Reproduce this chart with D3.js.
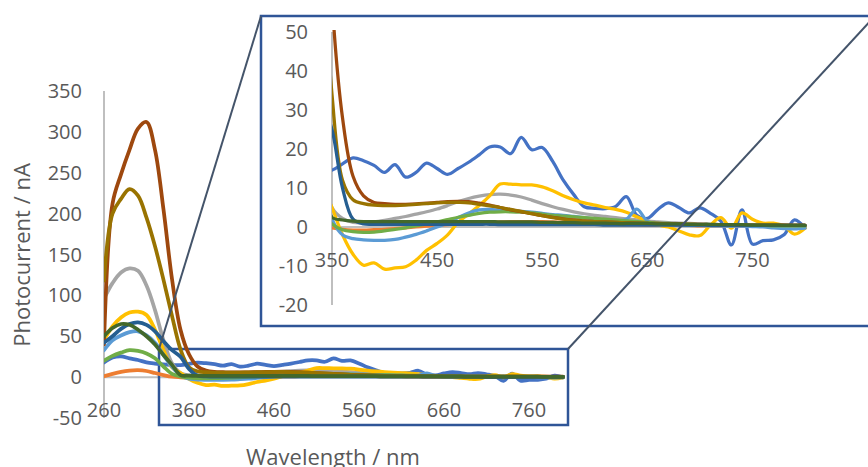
<!DOCTYPE html>
<html>
<head>
<meta charset="utf-8">
<script src="https://cdnjs.cloudflare.com/ajax/libs/d3/7.8.5/d3.min.js"></script>
<style>
  html, body { margin: 0; padding: 0; background: #fff; }
  svg { display: block; }
  text { font-family: "Open Sans", "Noto Sans", sans-serif; fill: #595959; }
</style>
</head>
<body>
<svg id="chart" width="868" height="467"></svg>
<script>
// Wavelength grid (nm)
const wavelengths = [260,270,280,290,300,310,320,330,340,350,360,370,380,390,400,410,420,430,440,450,
  460,470,480,490,500,510,520,530,540,550,560,570,580,590,600,610,620,630,640,650,
  660,670,680,690,700,710,720,730,740,750,760,770,780,790,800];

// Photocurrent (nA) for each sample
const seriesBlue = [18,24,25.5,23,21,18,16.5,15.5,15,14.6,16.2,17.7,17,15.8,14,16,12.8,14,16.4,15,
  13.5,15,16.6,18.5,20.5,20.5,18.8,23,19.8,20.4,16.8,12,8.3,5.2,4.8,4.7,5.3,7.8,3,2.2,
  4.5,6.2,5,3.6,4.9,3.5,1.5,-4.6,4.4,-4.4,-3.5,-3.3,-2,1.8,-0.3];
const seriesOrange = [1,4,6.5,8,8.5,7.5,5,2.5,0.5,-0.2,-0.6,-0.8,-0.8,-0.7,-0.6,-0.4,-0.2,0,0.2,0.4,
  0.6,0.8,1,1.1,1.2,1.3,1.4,1.4,1.4,1.4,1.3,1.2,1.1,1,0.9,0.8,0.7,0.6,0.6,0.5,
  0.5,0.4,0.4,0.4,0.3,0.3,0.3,0.2,0.2,0.3,0.4,0.5,0.5,0.2,0];
const seriesGray = [96,115,128,133,130,112,82,45,17,5,2.2,1.2,1.1,1.3,1.7,2.2,2.7,3.3,3.9,4.6,
  5.5,6.5,7.3,7.9,8.3,8.4,8.2,7.7,6.9,6,5.2,4.5,3.9,3.4,3,2.7,2.4,2.1,1.8,1.5,
  1.3,1.1,1,0.9,0.8,0.7,0.6,0.6,0.5,0.5,0.4,0.4,0.3,0.3,0.3];
const seriesYellow = [45,62,73,79,80,76,58,33,12,5,-2,-7,-9.8,-9.2,-10.8,-10.5,-10.2,-8.5,-6,-4.2,
  -2,1.2,3.3,5.5,8,11,11,10.8,10.8,10.3,9.3,8,7,6.2,5.6,5,4.5,3.8,2.6,1.5,
  0.5,0,-1,-2,-2.2,0.5,2.4,-0.3,3.6,2,1,1,0.3,-1.8,-0.3];
const seriesLightBlue = [33,45,51,55,56,51,42,27,13,2,-2,-3,-3.3,-3.4,-3.4,-3.2,-2.6,-1.9,-1,0,
  1,2.4,3.6,4.4,4.5,4.3,4.2,4,3.8,3.5,3.2,3,2.7,2.4,2.1,1.8,1.6,2,4.6,1.5,
  0.8,0.6,0.5,0.4,0.4,0.3,0.3,0.2,0.2,0.1,0,-0.2,-0.4,-0.5,-0.3];
const seriesGreen = [20,26,30,33,32,29,23,13,4,0.8,-0.7,-1.2,-1.4,-1.3,-1,-0.6,-0.2,0.3,0.8,1.3,
  1.9,2.5,3,3.5,3.8,3.9,3.9,3.8,3.6,3.3,3,2.8,2.6,2.4,2.2,2,1.8,1.6,1.4,1.2,
  1,0.9,0.8,0.7,0.6,0.6,0.5,0.5,0.4,0.4,0.4,0.3,0.3,0.3,0.3];
const seriesBrown = [40,212,248,278,304,312,278,205,120,58,28,13,8,6.3,6,5.8,5.8,5.9,6.1,6.3,
  6.5,6.6,6.5,6.1,5.6,5,4.4,3.9,3.4,2.9,2.5,2.1,1.8,1.6,1.4,1.3,1.2,1.1,1,0.9,
  0.9,0.8,0.8,0.7,0.7,0.6,0.6,0.6,0.5,0.5,0.5,0.5,0.5,0.5,0.5];
const seriesOlive = [118,200,218,230,222,195,160,119,75,34,12,7,6,5.6,5.5,5.5,5.6,5.8,6,6.2,
  6.3,6.3,6.2,5.8,5.4,5,4.5,4,3.4,2.9,2.4,2,1.7,1.5,1.4,1.3,1.2,1.1,1,0.9,
  0.8,0.8,0.7,0.7,0.6,0.6,0.6,0.5,0.5,0.5,0.5,0.5,0.4,0.4,0.4];
const seriesDarkBlue = [42,50,59,65,67,64,56,44,33,25,10,2,0.8,0.7,0.7,0.7,0.7,0.7,0.7,0.7,
  0.7,0.7,0.7,0.7,0.7,0.6,0.6,0.6,0.6,0.6,0.6,0.6,0.6,0.6,0.6,0.5,0.5,0.5,0.5,0.5,
  0.5,0.5,0.5,0.5,0.5,0.4,0.4,0.4,0.4,0.4,0.4,0.4,0.4,0.4,0.4];
const seriesDarkGreen = [50,60,65,64,58,50,40,27,15,2.5,1.8,1.5,1.4,1.4,1.4,1.4,1.4,1.4,1.4,1.4,
  1.4,1.4,1.4,1.4,1.4,1.3,1.3,1.3,1.3,1.2,1.2,1.1,1.1,1,1,1,0.9,0.9,0.9,0.9,
  0.8,0.8,0.8,0.7,0.7,0.7,0.6,0.6,0.6,0.5,0.5,0.5,0.4,0.4,0.4];

const seriesList = [seriesBlue, seriesOrange, seriesGray, seriesYellow, seriesLightBlue,
  seriesGreen, seriesBrown, seriesOlive, seriesDarkBlue, seriesDarkGreen];
const seriesColors = ["#4472C4","#ED7D31","#A5A5A5","#FFC000","#5B9BD5",
  "#70AD47","#9E480E","#997300","#255E91","#43682B"];

// Tick labels
const mainXTicks = [260,360,460,560,660,760];
const mainYTicks = [-50,0,50,100,150,200,250,300,350];
const insetXTicks = [350,450,550,650,750];
const insetYTicks = [-20,-10,0,10,20,30,40,50];

const svg = d3.select("#chart");
const axisGray = "#BFBFBF";
const frameBlue = "#2F5597";
const connectorColor = "#44546A";

// ---------- main chart ----------
const x = d3.scaleLinear().domain([260, 800]).range([104, 563]);
const y = d3.scaleLinear().domain([-50, 350]).range([418, 91]);

const main = svg.append("g");
main.append("line").attr("x1", x(260)).attr("x2", x(260)).attr("y1", y(350)).attr("y2", y(-50))
  .attr("stroke", axisGray).attr("stroke-width", 2);
main.append("line").attr("x1", x(260)).attr("x2", x(800)).attr("y1", y(0)).attr("y2", y(0))
  .attr("stroke", axisGray).attr("stroke-width", 2);

main.selectAll(".ytick").data(mainYTicks).join("text")
  .attr("x", 82).attr("y", d => y(d)).attr("dy", "0.35em")
  .attr("text-anchor", "end").attr("font-size", 20).text(d => d);
main.selectAll(".xtick").data(mainXTicks).join("text")
  .attr("x", d => x(d)).attr("y", y(0) + 33).attr("dy", "0.35em")
  .attr("text-anchor", "middle").attr("font-size", 20).text(d => d);

// zoom window marker
main.append("rect").attr("x", 159).attr("y", 349).attr("width", 409).attr("height", 76)
  .attr("fill", "none").attr("stroke", frameBlue).attr("stroke-width", 2.5);

svg.append("defs").append("clipPath").attr("id", "mainClip").append("rect")
  .attr("x", x(260)).attr("y", y(350) - 4).attr("width", x(800) - x(260) + 4).attr("height", y(-50) - y(350) + 4);

const lineMain = d3.line().x((d, i) => x(wavelengths[i])).y(d => y(d)).curve(d3.curveCatmullRom.alpha(0.5));
main.append("g").attr("clip-path", "url(#mainClip)")
  .selectAll("path").data(seriesList).join("path")
  .attr("d", lineMain).attr("fill", "none")
  .attr("stroke", (d, i) => seriesColors[i]).attr("stroke-width", 3.75)
  .attr("stroke-linejoin", "round").attr("stroke-linecap", "round");

main.append("text").attr("transform", "translate(30,255) rotate(-90)")
  .attr("text-anchor", "middle").attr("font-size", 22).text("Photocurrent / nA");
main.append("text").attr("x", 333).attr("y", 465)
  .attr("text-anchor", "middle").attr("font-size", 22).text("Wavelength / nm");

// ---------- inset ----------
const xi = d3.scaleLinear().domain([350, 800]).range([332, 805]);
const yi = d3.scaleLinear().domain([-20, 50]).range([305, 32]);

const inset = svg.append("g");
inset.append("rect").attr("x", 261).attr("y", 16).attr("width", 640).attr("height", 310)
  .attr("fill", "#fff").attr("stroke", frameBlue).attr("stroke-width", 2.5);

inset.append("line").attr("x1", xi(350)).attr("x2", xi(350)).attr("y1", yi(50)).attr("y2", yi(-20))
  .attr("stroke", axisGray).attr("stroke-width", 2);
inset.append("line").attr("x1", xi(350)).attr("x2", xi(800)).attr("y1", yi(0)).attr("y2", yi(0))
  .attr("stroke", axisGray).attr("stroke-width", 2);

inset.selectAll(".ytick").data(insetYTicks).join("text")
  .attr("x", 308).attr("y", d => yi(d)).attr("dy", "0.35em")
  .attr("text-anchor", "end").attr("font-size", 20).text(d => d);
inset.selectAll(".xtick").data(insetXTicks).join("text")
  .attr("x", d => xi(d)).attr("y", yi(0) + 33).attr("dy", "0.35em")
  .attr("text-anchor", "middle").attr("font-size", 20).text(d => d);

svg.select("defs").append("clipPath").attr("id", "insetClip").append("rect")
  .attr("x", xi(350)).attr("y", yi(50) - 2).attr("width", xi(800) - xi(350) + 4).attr("height", yi(-20) - yi(50) + 2);

const lineInset = d3.line().x((d, i) => xi(wavelengths[i])).y(d => yi(d)).curve(d3.curveCatmullRom.alpha(0.5));
inset.append("g").attr("clip-path", "url(#insetClip)")
  .selectAll("path").data(seriesList).join("path")
  .attr("d", lineInset).attr("fill", "none")
  .attr("stroke", (d, i) => seriesColors[i]).attr("stroke-width", 3.25)
  .attr("stroke-linejoin", "round").attr("stroke-linecap", "round");

// connectors from the zoom window to the inset
svg.append("line").attr("x1", 159).attr("y1", 349).attr("x2", 261).attr("y2", 16)
  .attr("stroke", connectorColor).attr("stroke-width", 2);
svg.append("line").attr("x1", 568).attr("y1", 349).attr("x2", 875).attr("y2", 16)
  .attr("stroke", connectorColor).attr("stroke-width", 2);
</script>
</body>
</html>
